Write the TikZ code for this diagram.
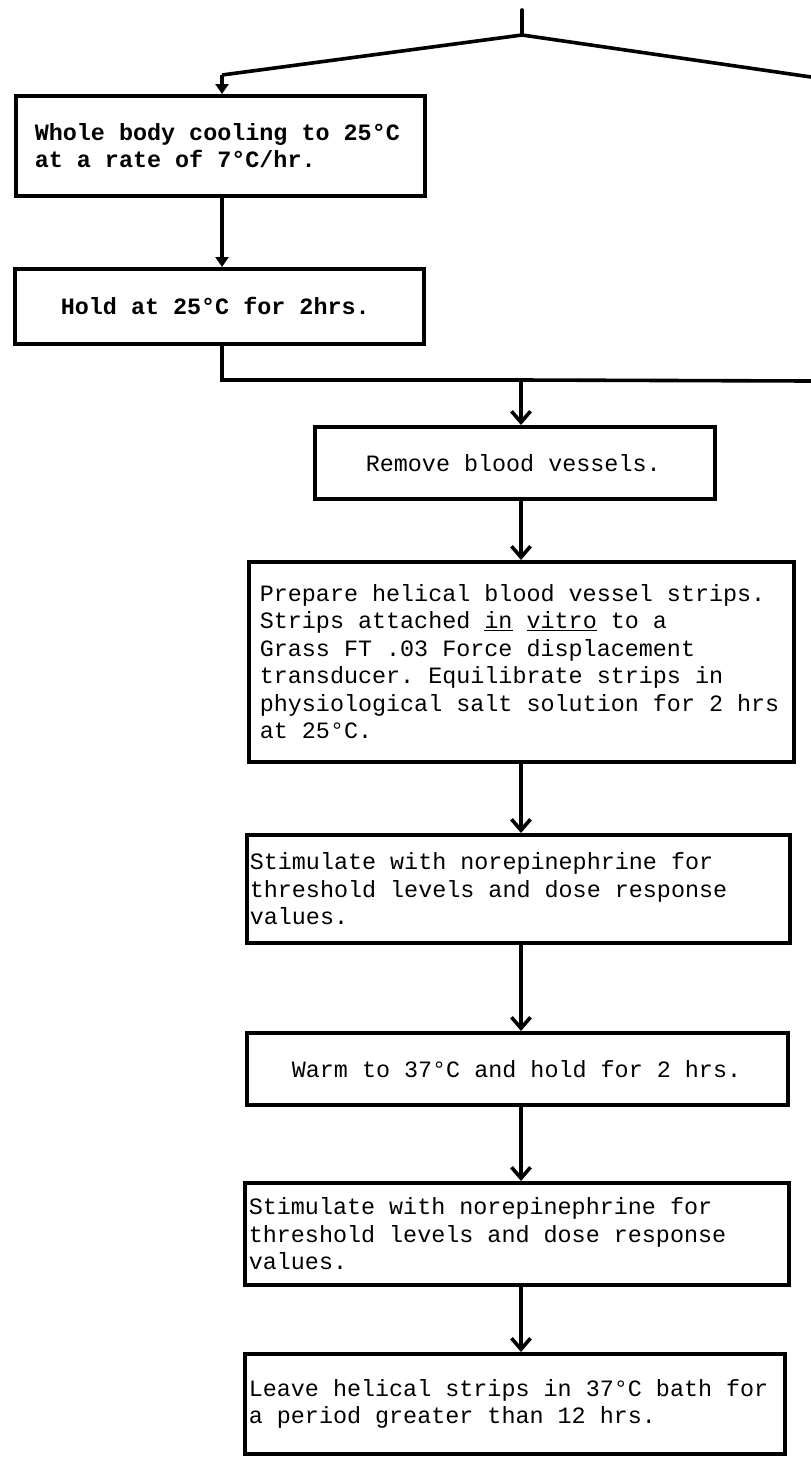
\documentclass[tikz,border=0pt]{standalone}
\usepackage{fontspec}
\setmonofont{Liberation Mono}
\usetikzlibrary{positioning,arrows.meta}

\newcommand{\typerface}{\ttfamily\fontsize{23.4}{27.5}\selectfont}
\tikzset{
  stage/.style={draw, line width=3.6pt, anchor=north west, align=justify,
    inner ysep=0pt, font=\typerface,
    execute at begin node={\spaceskip=0.6em\xspaceskip=0.6em\relax}},
  wire/.style={line width=3.6pt},
  flow/.style={wire, -{Triangle[length=10pt,width=13pt]}},
  feed/.style={wire, -{Straight Barb[length=11pt,width=19pt]}}
}

\begin{document}
\begin{tikzpicture}[x=1pt,y=-1pt]
  \useasboundingbox (0,0) rectangle (811,1457);

  % cold branch
  \node[stage, font=\typerface\bfseries, minimum width=409pt, minimum height=100pt,
    inner xsep=19pt, text width=371pt] (cool) at (14,94)
    {Whole body cooling to 25°C\\at a rate of 7°C/hr.};
  \node[stage, font=\typerface\bfseries, minimum width=409pt, minimum height=75pt,
    inner xsep=46pt, text width=317pt] (hold) at (13,267)
    {Hold at 25°C for 2hrs.};

  % main column
  \node[stage, minimum width=400pt, minimum height=72pt,
    inner xsep=51pt, text width=298pt] (remove) at (313,425)
    {Remove blood vessels.};
  \node[stage, minimum width=545pt, minimum height=200pt,
    inner xsep=11pt, text width=523pt] (prepare) at (247,560)
    {Prepare helical blood vessel strips.\\
     Strips attached \underline{in} \underline{vitro} to a\\
     Grass FT .03 Force displacement\\
     transducer. Equilibrate strips in\\
     physiological salt solution for 2 hrs\\
     at 25°C.};
  \node[stage, minimum width=543pt, minimum height=108pt,
    inner xsep=3pt, text width=537pt] (stim1) at (245,833)
    {Stimulate with norepinephrine for\\
     threshold levels and dose response\\
     values.};
  \node[stage, minimum width=541pt, minimum height=72pt,
    inner xsep=45pt, text width=451pt] (warm) at (245,1031)
    {Warm to 37°C and hold for 2 hrs.};
  \node[stage, minimum width=544pt, minimum height=102pt,
    inner xsep=4pt, text width=536pt] (stim2) at (243,1181)
    {Stimulate with norepinephrine for\\
     threshold levels and dose response\\
     values.};
  \node[stage, minimum width=540pt, minimum height=100pt,
    inner xsep=4pt, text width=532pt] (leave) at (243,1352)
    {Leave helical strips in 37°C bath for\\
     a period greater than 12 hrs.};

  % fork at the top
  \coordinate (start) at (522,10);
  \coordinate (fork) at (522,35);
  \coordinate (lbend) at (222,75);
  \coordinate (rend) at (811,77);
  \draw[wire, line cap=round] (start) -- (fork);
  \draw[wire] (rend) -- (fork) -- (lbend);
  \draw[flow] (lbend) -- (cool.north -| lbend);
  \draw[flow] (cool.south -| lbend) -- (hold.north -| lbend);

  % join into the main column
  \coordinate (join) at (521,380);
  \coordinate (rjoin) at (811,381);
  \draw[wire] (hold.south -| lbend) |- (join) -- (rjoin);
  \draw[feed] (join) -- (remove.north -| join);
  \draw[feed] (remove.south -| join) -- (prepare.north -| join);
  \draw[feed] (prepare.south -| join) -- (stim1.north -| join);
  \draw[feed] (stim1.south -| join) -- (warm.north -| join);
  \draw[feed] (warm.south -| join) -- (stim2.north -| join);
  \draw[feed] (stim2.south -| join) -- (leave.north -| join);
\end{tikzpicture}
\end{document}
